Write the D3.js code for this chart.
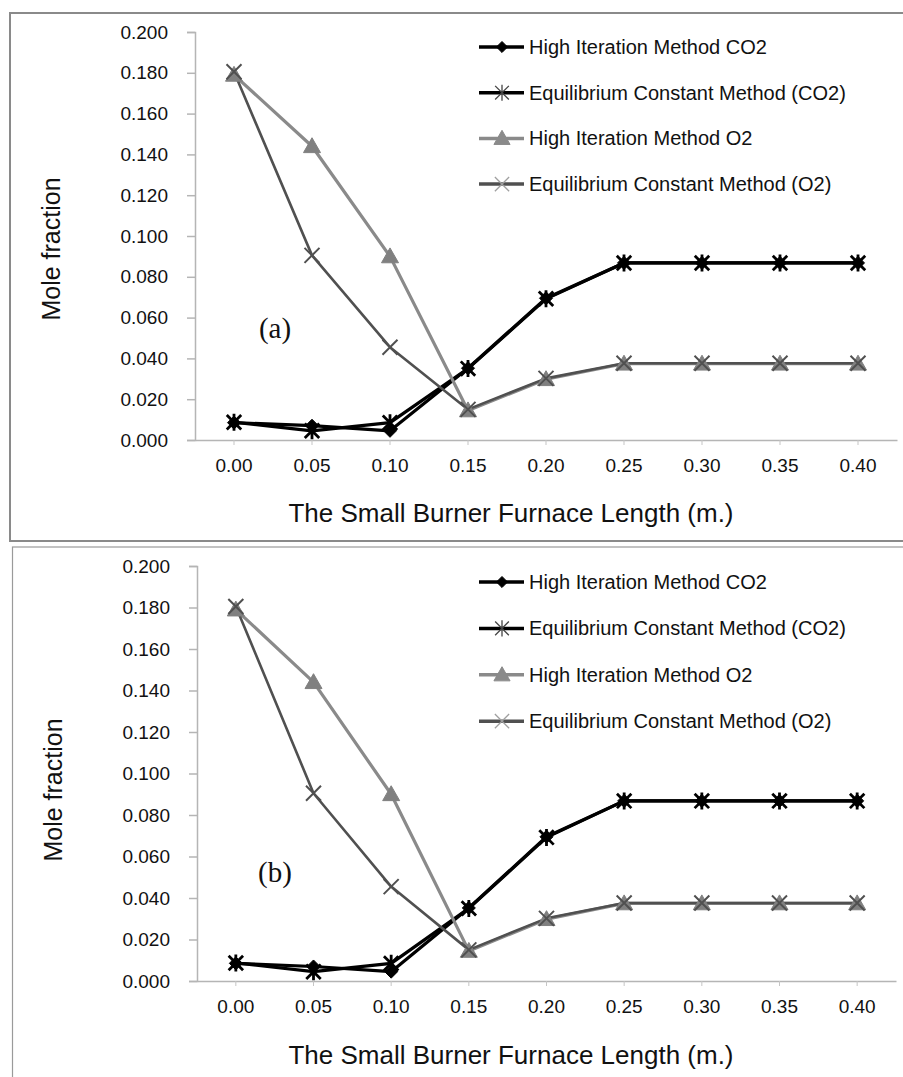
<!DOCTYPE html>
<html>
<head>
<meta charset="utf-8">
<script src="https://cdn.jsdelivr.net/npm/d3@7/dist/d3.min.js"></script>
<style>
  html, body { margin: 0; padding: 0; background: #fff; }
  svg { display: block; }
  text { font-family: "Liberation Sans", Arial, sans-serif; fill: #111; }
</style>
</head>
<body>
<svg id="chart" width="903" height="1077"></svg>
<script>
// ---------- DATA ----------
const categories = [0.00, 0.05, 0.10, 0.15, 0.20, 0.25, 0.30, 0.35, 0.40];
const yTicks = [0, 0.02, 0.04, 0.06, 0.08, 0.10, 0.12, 0.14, 0.16, 0.18, 0.20];
const seriesNames = [
  "High Iteration Method CO2",
  "Equilibrium Constant Method (CO2)",
  "High Iteration Method O2",
  "Equilibrium Constant Method (O2)"
];
const hiCO2 = [0.0085, 0.0070, 0.0045, 0.0352, 0.0695, 0.0868, 0.0868, 0.0868, 0.0868];
const ecCO2 = [0.0087, 0.0045, 0.0085, 0.0350, 0.0692, 0.0868, 0.0868, 0.0868, 0.0868];
const hiO2  = [0.1790, 0.1440, 0.0900, 0.0145, 0.0298, 0.0374, 0.0374, 0.0374, 0.0374];
const ecO2  = [0.1805, 0.0905, 0.0455, 0.0150, 0.0302, 0.0376, 0.0376, 0.0376, 0.0376];
const panelLabels = ["(a)", "(b)"];
const xTitle = "The Small Burner Furnace Length (m.)";
const yTitle = "Mole fraction";

// ---------- STYLES ----------
const styles = [
  { line: "#000", width: 3.2, marker: "diamond", fill: "#000", mstroke: "#000", lfill: "#000", lstroke: "#000" },
  { line: "#000", width: 3.2, marker: "star", fill: "none", mstroke: "#000", lfill: "none", lstroke: "#444" },
  { line: "#8a8a8a", width: 3.2, marker: "triangle", fill: "#808080", mstroke: "#808080", lfill: "#8a8a8a", lstroke: "#8a8a8a" },
  { line: "#505050", width: 2.6, marker: "x", fill: "none", mstroke: "#505050", lfill: "none", lstroke: "#a0a0a0" }
];
const allSeries = [hiCO2, ecCO2, hiO2, ecO2];

const svg = d3.select("#chart");

function drawMarker(g, type, cx, cy, fill, stroke, sw, scale) {
  const s = scale || 1;
  if (type === "diamond") {
    const r = 6.5 * s;
    g.append("path").attr("d", `M${cx},${cy - r}L${cx + r},${cy}L${cx},${cy + r}L${cx - r},${cy}Z`)
      .attr("fill", fill).attr("stroke", stroke).attr("stroke-width", 1);
  } else if (type === "triangle") {
    const r = 8.5 * s;
    g.append("path").attr("d", `M${cx},${cy - r}L${cx + r},${cy + r * 0.75}L${cx - r},${cy + r * 0.75}Z`)
      .attr("fill", fill).attr("stroke", stroke).attr("stroke-width", 1);
  } else if (type === "star") {
    const r = 8.5 * s;
    const p = `M${cx - r * 0.85},${cy - r * 0.85}L${cx + r * 0.85},${cy + r * 0.85}` +
              `M${cx + r * 0.85},${cy - r * 0.85}L${cx - r * 0.85},${cy + r * 0.85}` +
              `M${cx},${cy - r}L${cx},${cy + r}`;
    g.append("path").attr("d", p).attr("fill", "none").attr("stroke", stroke).attr("stroke-width", sw);
  } else if (type === "x") {
    const r = 7.5 * s;
    const p = `M${cx - r},${cy - r}L${cx + r},${cy + r}M${cx + r},${cy - r}L${cx - r},${cy + r}`;
    g.append("path").attr("d", p).attr("fill", "none").attr("stroke", stroke).attr("stroke-width", sw);
  }
}

function drawPanel(cfg) {
  const g = svg.append("g");
  // frame
  g.append("rect").attr("x", cfg.frame[0]).attr("y", cfg.frame[1])
    .attr("width", cfg.frame[2]).attr("height", cfg.frame[3])
    .attr("fill", "none").attr("stroke", cfg.frameColor).attr("stroke-width", cfg.frameWidth);

  const x = d3.scaleBand().domain(categories.map(String)).range([cfg.x0, cfg.x1]).padding(0);
  const y = d3.scaleLinear().domain([0, 0.2]).range([cfg.y0, cfg.y1]);
  const cx = (i) => x(String(categories[i])) + x.bandwidth() / 2;

  // y axis
  const yAxis = d3.axisLeft(y).tickValues(yTicks).tickFormat(d3.format(".3f")).tickSize(8).tickPadding(19);
  const ya = g.append("g").attr("transform", `translate(${cfg.x0},0)`).call(yAxis);
  ya.select(".domain").attr("stroke", "#b5b5b5").attr("stroke-width", 1.5);
  ya.selectAll(".tick line").attr("stroke", "#b5b5b5").attr("stroke-width", 1.5);
  ya.selectAll(".tick text").style("font-size", "19px").attr("fill", "#111")
    .style("font-family", '"Liberation Sans", Arial, sans-serif');

  // x axis
  const xAxis = d3.axisBottom(x).tickFormat(d => d3.format(".2f")(+d)).tickSize(5).tickPadding(14).tickSizeOuter(0);
  const xa = g.append("g").attr("transform", `translate(0,${cfg.y0})`).call(xAxis);
  xa.select(".domain").attr("stroke", "#b5b5b5").attr("stroke-width", 1.5);
  xa.selectAll(".tick line").attr("stroke", "#c5c5c5").attr("stroke-width", 1);
  xa.selectAll(".tick text").style("font-size", "19px").attr("fill", "#111")
    .style("font-family", '"Liberation Sans", Arial, sans-serif');

  // lines
  const line = d3.line().x((d, i) => cx(i)).y(d => y(d));
  allSeries.forEach((s, k) => {
    g.append("path").datum(s).attr("d", line).attr("fill", "none")
      .attr("stroke", styles[k].line).attr("stroke-width", styles[k].width)
      .attr("stroke-linejoin", "round");
  });
  // markers
  allSeries.forEach((s, k) => {
    const mg = g.append("g");
    s.forEach((v, i) => {
      drawMarker(mg, styles[k].marker, cx(i), y(v), styles[k].fill, styles[k].mstroke,
        styles[k].marker === "star" ? 2.8 : 2, 1);
    });
  });

  // axis titles
  g.append("text").attr("x", cfg.xTitleX).attr("y", cfg.y0 + cfg.xTitleOff)
    .attr("text-anchor", "middle").style("font-size", "26px").text(xTitle);
  g.append("text").attr("transform", `translate(${cfg.yTitleX},${cfg.yTitleY}) rotate(-90)`)
    .attr("text-anchor", "middle").style("font-size", "25px").text(yTitle);

  // panel label
  g.append("text").attr("x", cfg.labelX).attr("y", cfg.labelY).attr("text-anchor", "middle")
    .style("font-family", '"Liberation Serif", "Times New Roman", serif').style("font-size", "29px")
    .text(cfg.label);

  // legend
  seriesNames.forEach((name, k) => {
    const ly = cfg.legY + k * cfg.legStep;
    const lg = g.append("g");
    lg.append("line").attr("x1", 479).attr("x2", 524).attr("y1", ly).attr("y2", ly)
      .attr("stroke", styles[k].line).attr("stroke-width", 3.5);
    drawMarker(lg, styles[k].marker, 502, ly, styles[k].lfill, styles[k].lstroke, 1.3, styles[k].marker === "diamond" ? 0.85 : 0.95);
    lg.append("text").attr("x", 529).attr("y", ly + 7).style("font-size", "20px").text(name);
  });
}

drawPanel({
  frame: [10, 13, 900, 528], frameColor: "#8a8a8a", frameWidth: 2,
  x0: 195, x1: 897, y0: 440, y1: 32,
  xTitleX: 511, xTitleOff: 82, yTitleX: 60, yTitleY: 249,
  labelX: 275, labelY: 338, label: panelLabels[0],
  legY: 47, legStep: 45.7
});
drawPanel({
  frame: [12.5, 547, 900, 540], frameColor: "#9a9a9a", frameWidth: 1.2,
  x0: 197, x1: 896, y0: 981, y1: 566,
  xTitleX: 511, xTitleOff: 83, yTitleX: 62, yTitleY: 790,
  labelX: 275, labelY: 882, label: panelLabels[1],
  legY: 582, legStep: 46.4
});
</script>
</body>
</html>
